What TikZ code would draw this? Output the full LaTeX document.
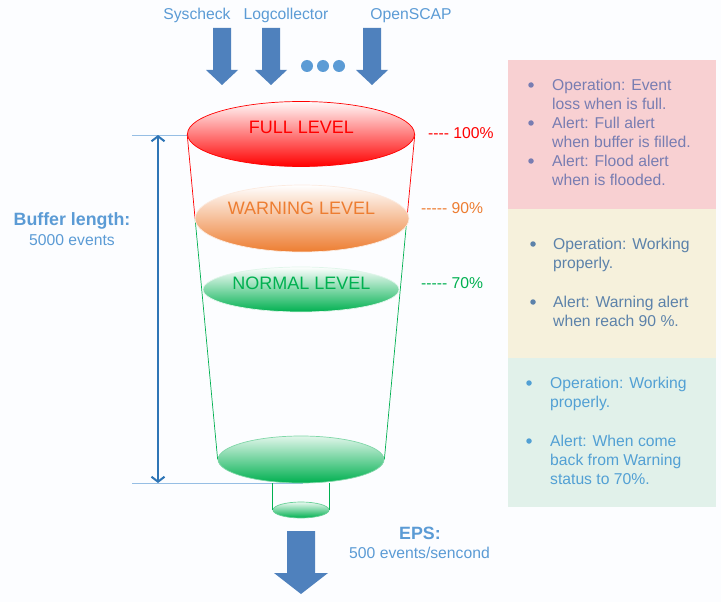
\documentclass[tikz,border=0pt]{standalone}
\usepackage{fontspec}
\setmainfont{Liberation Sans}
\usetikzlibrary{shapes.geometric,arrows.meta,calc}
\definecolor{bgc}{RGB}{252,253,255}
\definecolor{lblue}{RGB}{91,155,213}
\definecolor{arrowblue}{RGB}{79,129,189}
\definecolor{darkblue}{RGB}{46,117,182}
\definecolor{lineblue}{RGB}{150,190,228}
\definecolor{fullred}{RGB}{255,0,0}
\definecolor{warnorange}{RGB}{237,125,49}
\definecolor{normgreen}{RGB}{0,176,80}
\definecolor{pinkbg}{RGB}{248,208,210}
\definecolor{yellowbg}{RGB}{246,241,220}
\definecolor{greenbg}{RGB}{225,241,234}
\definecolor{pinktxt}{RGB}{120,125,178}
\definecolor{yellowtxt}{RGB}{92,130,170}
\definecolor{greentxt}{RGB}{82,160,212}
\begin{document}
\begin{tikzpicture}[x=1pt,y=-1pt,
  lab/.style={inner sep=0pt,text height=11.2pt,text depth=0pt,font=\fontsize{15.7}{18}\selectfont},
  boldlab/.style={inner sep=0pt,text height=12.8pt,text depth=0pt,font=\fontsize{17.8}{20}\selectfont\bfseries},
  lvl/.style={inner sep=0pt,text height=12.8pt,text depth=0pt,font=\fontsize{18}{20}\selectfont},
  ell/.style={ellipse,inner sep=0pt,line width=0.7pt},
  itemtxt/.style={anchor=north west,inner sep=0pt,align=left,font=\fontsize{15.7}{19}\selectfont},
  bul/.style={circle,inner sep=0pt,minimum size=5.5pt},
  box/.style={anchor=north west,inner sep=0pt,minimum width=208pt},
  pics/dnarrow/.style n args={4}{code={
    \fill[arrowblue] (-#1,0) -- (#1,0) -- (#1,#3) -- (#2,#3) -- (0,#4) -- (-#2,#3) -- (-#1,#3) -- cycle;}}
]
\fill[bgc] (0,0) rectangle (721,602);
\useasboundingbox (0,0) rectangle (721,602);

% top labels
\node[lab,text=lblue] (sys) at (197,14) {Syscheck};
\node[lab,text=lblue] (logc) at (286,14) {Logcollector};
\node[lab,text=lblue] (oscap) at (411,14) {OpenSCAP};

% input arrows
\pic at (222,28) {dnarrow={9}{16}{42}{57}};
\pic at (271,28) {dnarrow={9}{16}{42}{57}};
\pic at (372,28) {dnarrow={9}{16}{42}{57}};
\node[circle,fill=lblue,inner sep=0pt,minimum size=12pt] (d1) at (307,66) {};
\node[circle,fill=lblue,inner sep=0pt,minimum size=12pt] (d2) at (323,66) {};
\node[circle,fill=lblue,inner sep=0pt,minimum size=12pt] (d3) at (339,66) {};

% right boxes
\node[box,fill=pinkbg,minimum height=149pt] (pbox) at (508,60) {};
\node[box,fill=yellowbg,minimum height=149pt] (ybox) at (508,209) {};
\node[box,fill=greenbg,minimum height=149pt] (gbox) at (508,358) {};

\node[bul,fill=pinktxt] (pb1) at (531,85) {};
\node[bul,fill=pinktxt] (pb2) at (531,123) {};
\node[bul,fill=pinktxt] (pb3) at (531,161) {};
\node[itemtxt,text=pinktxt] (pt1) at (552,77.3) {\strut Operation: Event\\\strut loss when is full.};
\node[itemtxt,text=pinktxt] (pt2) at (552,115.3) {\strut Alert: Full alert\\\strut when buffer is filled.};
\node[itemtxt,text=pinktxt] (pt3) at (552,153.3) {\strut Alert: Flood alert\\\strut when is flooded.};

\node[bul,fill=yellowtxt] (yb1) at (533,244) {};
\node[bul,fill=yellowtxt] (yb2) at (533,302) {};
\node[itemtxt,text=yellowtxt] (yt1) at (553,236.3) {\strut Operation: Working\\\strut properly.};
\node[itemtxt,text=yellowtxt] (yt2) at (553,294.3) {\strut Alert: Warning alert\\\strut when reach 90 \%.};

\node[bul,fill=greentxt] (gb1) at (529,383) {};
\node[bul,fill=greentxt] (gb2) at (529,441) {};
\node[itemtxt,text=greentxt] (gt1) at (550,375.3) {\strut Operation: Working\\\strut properly.};
\node[itemtxt,text=greentxt] (gt2) at (550,433.3) {\strut Alert: When come\\\strut back from Warning\\\strut status to 70\%.};

% ellipse centres, drawn later for layering
\path (301,134) coordinate (fullc);
\path (301,459.5) coordinate (botc);

% dimension lines
\coordinate (dtl) at (132,135);
\coordinate (dtr) at (188,135);
\coordinate (dbl) at (132,483);
\coordinate (dbr) at (303,483);
\coordinate (at) at (158,135);
\coordinate (ab) at (158,483);
\draw[lineblue,line width=0.9pt] (dtl) -- (dtr);
\draw[lineblue,line width=0.9pt] (dbl) -- (dbr);
\draw[darkblue,line width=2pt,{Straight Barb[length=5pt,width=13pt]}-{Straight Barb[length=5pt,width=13pt]}] (at) -- (ab);

\node[boldlab,text=lblue] (blen) at (72,219) {Buffer length:};
\node[lab,text=lblue] (bev) at (72,240) {5000 events};

% funnel: anchors
\node[ell,minimum width=166pt,minimum height=47pt] (bottom) at (botc) {};
\node[ell,minimum width=227pt,minimum height=65pt] (full) at (fullc) {};
\coordinate (wl) at ($(full.west)!0.26!(bottom.west)$);
\coordinate (wr) at ($(full.east)!0.27!(bottom.east)$);
\draw[fullred,line width=0.7pt] (full.west) -- (wl);
\draw[normgreen,line width=0.7pt] (wl) -- (bottom.west);
\draw[fullred,line width=0.7pt] (full.east) -- (wr);
\draw[normgreen,line width=0.7pt] (wr) -- (bottom.east);

% small outlet
\node[ell,minimum width=56pt,minimum height=16pt,draw=normgreen!60,top color=normgreen!8,middle color=normgreen!45,bottom color=normgreen] (small) at (301,510) {};
\draw[normgreen,line width=0.7pt] (small.west |- bottom.south) -- (small.west);
\draw[normgreen,line width=0.7pt] (small.east |- bottom.south) -- (small.east);

% ellipses
\node[ell,minimum width=166pt,minimum height=47pt,draw=normgreen!50,top color=normgreen!12,middle color=normgreen!40,bottom color=normgreen] at (botc) {};
\node[ell,minimum width=196pt,minimum height=45pt,draw=normgreen!12,top color=white,middle color=normgreen!28,bottom color=normgreen] (normal) at (301,289.5) {};
\node[ell,minimum width=214pt,minimum height=67pt,draw=warnorange!15,top color=white,middle color=warnorange!38,bottom color=warnorange] (warn) at (302,218.5) {};
\node[ell,minimum width=227pt,minimum height=65pt,draw=fullred,top color=red!2,middle color=red!32,bottom color=red] at (fullc) {};

\node[lvl,text=fullred] (tfull) at (301.5,127) {FULL LEVEL};
\node[lvl,text=warnorange] (twarn) at (301.5,208) {WARNING LEVEL};
\node[lvl,text=normgreen] (tnorm) at (301.5,283) {NORMAL LEVEL};

\node[lab,text=fullred,anchor=west] (p100) at (428,133) {-{}-{}-{}- 100\%};
\node[lab,text=warnorange,anchor=west] (p90) at (421,208) {-{}-{}-{}-{}- 90\%};
\node[lab,text=normgreen,anchor=west] (p70) at (421,283) {-{}-{}-{}-{}- 70\%};

% output arrow
\pic at (301,531) {dnarrow={14}{27}{42}{63}};
\node[boldlab,text=lblue] (eps) at (420,533) {EPS:};
\node[lab,text=lblue] (epsv) at (419.5,553) {500 events/sencond};
\end{tikzpicture}
\end{document}
